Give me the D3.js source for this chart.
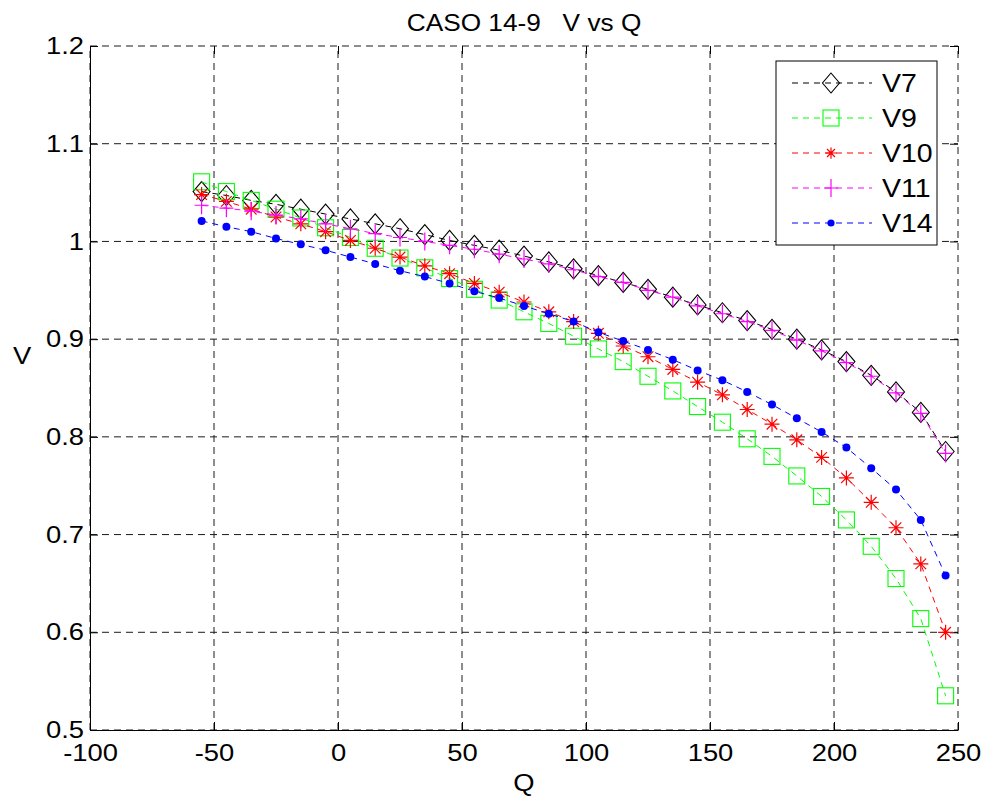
<!DOCTYPE html>
<html>
<head>
<meta charset="utf-8">
<script src="https://cdn.jsdelivr.net/npm/d3@7"></script>
<style>
  html, body { margin: 0; padding: 0; background: #fff; }
  svg text { font-family: "Liberation Sans", Arial, Helvetica, sans-serif; fill: #000; white-space: pre; }
</style>
</head>
<body>
<svg id="chart" width="987" height="800"></svg>
<script>
// Reactive power injection Q (x) and bus voltages (p.u.)
const qValues = [-55, -45, -35, -25, -15, -5, 5, 15, 25, 35, 45, 55, 65, 75, 85, 95,
                 105, 115, 125, 135, 145, 155, 165, 175, 185, 195, 205, 215, 225, 235, 245];

const v7  = [1.051, 1.047, 1.042, 1.038, 1.033, 1.028, 1.023, 1.018, 1.013, 1.007, 1.001,
             0.996, 0.991, 0.985, 0.979, 0.972, 0.965, 0.958, 0.951, 0.943, 0.935,
             0.927, 0.919, 0.910, 0.900, 0.889, 0.877, 0.863, 0.846, 0.825, 0.785];
const v9  = [1.061, 1.051, 1.042, 1.033, 1.024, 1.014, 1.004, 0.993, 0.983, 0.973, 0.962,
             0.951, 0.940, 0.928, 0.916, 0.903, 0.890, 0.877, 0.862, 0.847, 0.831,
             0.815, 0.798, 0.780, 0.760, 0.739, 0.715, 0.688, 0.655, 0.614, 0.535];
const v10 = [1.048, 1.041, 1.033, 1.025, 1.018, 1.010, 1.001, 0.993, 0.984, 0.975, 0.967,
             0.957, 0.948, 0.938, 0.928, 0.918, 0.906, 0.893, 0.882, 0.869, 0.856,
             0.843, 0.828, 0.813, 0.797, 0.779, 0.758, 0.733, 0.707, 0.670, 0.600];
const v11 = [1.037, 1.034, 1.031, 1.027, 1.023, 1.018, 1.013, 1.008, 1.004, 1.000, 0.996,
             0.992, 0.987, 0.982, 0.977, 0.971, 0.964, 0.958, 0.950, 0.943, 0.934,
             0.926, 0.918, 0.909, 0.899, 0.888, 0.876, 0.862, 0.845, 0.824, 0.783];
const v14 = [1.021, 1.015, 1.010, 1.003, 0.997, 0.991, 0.984, 0.977, 0.970, 0.964, 0.957,
             0.949, 0.942, 0.934, 0.926, 0.918, 0.907, 0.898, 0.889, 0.879, 0.868,
             0.858, 0.846, 0.833, 0.819, 0.805, 0.789, 0.768, 0.746, 0.715, 0.658];

const seriesNames = ["V7", "V9", "V10", "V11", "V14"];
const xTicks = [-100, -50, 0, 50, 100, 150, 200, 250];
const yTicks = [0.5, 0.6, 0.7, 0.8, 0.9, 1.0, 1.1, 1.2];
const titleText = "CASO 14-9   V vs Q";
const xLabel = "Q";
const yLabel = "V";

const series = [
  { name: seriesNames[0], values: v7,  color: "#000000", marker: "diamond" },
  { name: seriesNames[1], values: v9,  color: "#00ff00", marker: "square" },
  { name: seriesNames[2], values: v10, color: "#ff0000", marker: "asterisk" },
  { name: seriesNames[3], values: v11, color: "#ff00ff", marker: "plus" },
  { name: seriesNames[4], values: v14, color: "#0000ff", marker: "dot" }
];

const svg = d3.select("#chart");
const plotL = 90, plotR = 958, plotT = 46, plotB = 730;
const TEXT_SX = 1.14;   // slightly wide lettering

const x = d3.scaleLinear().domain([-100, 250]).range([plotL, plotR]);
const y = d3.scaleLinear().domain([0.5, 1.2]).range([plotB, plotT]);

// dashed grid (also forms the top and right edges)
const grid = svg.append("g").attr("stroke", "#1a1a1a").attr("stroke-width", 1)
  .attr("stroke-dasharray", "7,5").attr("fill", "none");
grid.selectAll("line.gx").data(xTicks).join("line").attr("class", "gx")
  .attr("x1", d => x(d)).attr("x2", d => x(d)).attr("y1", plotB).attr("y2", plotT);
grid.selectAll("line.gy").data(yTicks).join("line").attr("class", "gy")
  .attr("y1", d => y(d)).attr("y2", d => y(d)).attr("x1", plotL).attr("x2", plotR);

// axes with inward ticks
const tickLen = 8;
const xAxis = svg.append("g").attr("transform", `translate(0,${plotB})`)
  .call(d3.axisBottom(x).tickValues(xTicks).tickFormat(d => String(d))
    .tickSizeInner(-tickLen).tickSizeOuter(0).tickPadding(14));
const yAxis = svg.append("g").attr("transform", `translate(${plotL},0)`)
  .call(d3.axisLeft(y).tickValues(yTicks).tickFormat(d => String(+d.toFixed(1)))
    .tickSizeInner(-tickLen).tickSizeOuter(0).tickPadding(6));
const xTop = svg.append("g").attr("transform", `translate(0,${plotT})`)
  .call(d3.axisTop(x).tickValues(xTicks).tickFormat("").tickSizeInner(-tickLen).tickSizeOuter(0));
const yRight = svg.append("g").attr("transform", `translate(${plotR},0)`)
  .call(d3.axisRight(y).tickValues(yTicks).tickFormat("").tickSizeInner(-tickLen).tickSizeOuter(0));
xTop.select(".domain").remove();
yRight.select(".domain").remove();

[xAxis, yAxis, xTop, yRight].forEach(g => {
  g.selectAll(".domain").attr("stroke", "#000").attr("stroke-width", 1);
  g.selectAll(".tick line").attr("stroke", "#000").attr("stroke-width", 1);
  g.selectAll(".tick text").attr("font-size", 24).attr("fill", "#000")
    .attr("font-family", "Liberation Sans, Arial, Helvetica, sans-serif")
    .attr("transform", `scale(${TEXT_SX},1)`);
});
xAxis.selectAll(".tick text").attr("x", 0);
yAxis.selectAll(".tick text").attr("x", -6 / TEXT_SX);

// marker painters
function drawMarker(g, type, cx, cy, color, s) {
  s = s || 1;
  if (type === "diamond") {
    const w = 8.5 * s, h = 10 * s;
    g.append("path").attr("d", `M${cx},${cy - h}L${cx + w},${cy}L${cx},${cy + h}L${cx - w},${cy}Z`)
      .attr("fill", "none").attr("stroke", color).attr("stroke-width", 1.1);
  } else if (type === "square") {
    const h = 8 * s;
    g.append("rect").attr("x", cx - h).attr("y", cy - h).attr("width", 2 * h).attr("height", 2 * h)
      .attr("fill", "none").attr("stroke", color).attr("stroke-width", 1.1);
  } else if (type === "asterisk") {
    const h = 7.5 * s, d = 5.3 * s;
    const p = `M${cx - h},${cy}H${cx + h}M${cx},${cy - h}V${cy + h}` +
              `M${cx - d},${cy - d}L${cx + d},${cy + d}M${cx - d},${cy + d}L${cx + d},${cy - d}`;
    g.append("path").attr("d", p).attr("fill", "none").attr("stroke", color).attr("stroke-width", 1.2);
  } else if (type === "plus") {
    const w = 7 * s, h = 9 * s;
    g.append("path").attr("d", `M${cx - w},${cy}H${cx + w}M${cx},${cy - h}V${cy + h}`)
      .attr("fill", "none").attr("stroke", color).attr("stroke-width", 1.2);
  } else if (type === "dot") {
    g.append("circle").attr("cx", cx).attr("cy", cy).attr("r", 4 * s).attr("fill", color);
  }
}

// series: dashed line then markers, in plotting order
const line = d3.line().x((d, i) => x(qValues[i])).y(d => y(d));
series.forEach(s => {
  const g = svg.append("g");
  g.append("path").datum(s.values).attr("d", line)
    .attr("fill", "none").attr("stroke", s.color).attr("stroke-width", 1)
    .attr("stroke-dasharray", "6,5");
  s.values.forEach((v, i) => drawMarker(g, s.marker, x(qValues[i]), y(v), s.color));
});

// legend
const lg = svg.append("g");
lg.append("rect").attr("x", 776).attr("y", 61).attr("width", 161).attr("height", 184)
  .attr("fill", "#fff").attr("stroke", "#000").attr("stroke-width", 1);
series.forEach((s, i) => {
  const cy = 83 + i * 35;
  lg.append("line").attr("x1", 792).attr("x2", 872).attr("y1", cy).attr("y2", cy)
    .attr("stroke", s.color).attr("stroke-width", 1).attr("stroke-dasharray", "6,5");
  drawMarker(lg, s.marker, 831, cy, s.color, s.marker === "asterisk" ? 0.75 : (s.marker === "dot" ? 0.9 : 1));
  lg.append("text").attr("transform", `translate(882,${cy}) scale(${TEXT_SX},1)`)
    .attr("dy", "0.36em").attr("font-size", 25).text(s.name);
});

// title and axis labels
svg.append("text").attr("transform", `translate(${(plotL + plotR) / 2},31) scale(${TEXT_SX},1)`)
  .attr("text-anchor", "middle").attr("font-size", 23).attr("xml:space", "preserve").text(titleText);
svg.append("text").attr("transform", `translate(${(plotL + plotR) / 2},791) scale(${TEXT_SX},1)`)
  .attr("text-anchor", "middle").attr("font-size", 24).text(xLabel);
svg.append("text").attr("transform", `translate(22,364) scale(${TEXT_SX},1)`)
  .attr("text-anchor", "middle").attr("font-size", 24).text(yLabel);
</script>
</body>
</html>
